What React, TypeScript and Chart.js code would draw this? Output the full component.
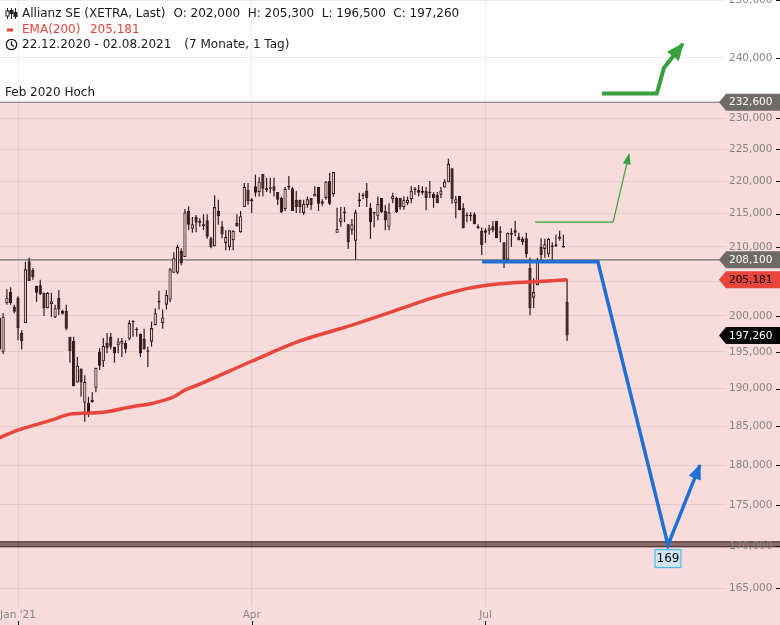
import React, { useEffect, useRef } from "react";
import { Chart, registerables } from "chart.js";

Chart.register(...registerables);

// ---- candle data (trading-day index 0 = 22.12.2020, 153 = 02.08.2021) ----
const opens = [
  195.3, 195.0, 201.8, 203.4, 201.3, 202.6, 197.6, 199.0, 207.9, 206.6,
  204.3, 204.4, 203.3, 201.1, 201.7, 199.8, 202.6, 200.7, 200.7, 197.1,
  196.5, 190.8, 192.7, 188.1, 188.1, 188.5, 190.1, 195.0, 193.7, 196.2,
  197.1, 195.7, 195.9, 196.1, 196.2, 196.8, 199.1, 198.0, 197.5, 196.8,
  195.1, 196.4, 198.7, 201.9, 199.0, 201.6, 202.3, 206.2, 206.2, 209.4,
  208.5, 215.4, 212.7, 214.5, 213.6, 213.4, 214.0, 211.3, 210.1, 215.4,
  213.1, 210.6, 210.0, 211.0, 213.6, 212.2, 216.0, 218.6, 217.2, 219.2,
  218.3, 221.1, 218.9, 218.8, 219.2, 218.3, 217.4, 215.7, 219.0, 218.9,
  217.1, 217.1, 215.1, 216.3, 217.4, 217.6, 219.1, 216.9, 217.4, 220.0,
  218.0, 212.1, 213.7, 215.1, 213.4, 212.5, 210.9, 216.9, 217.8, 218.5,
  215.9, 215.1, 214.6, 217.4, 215.4, 213.0, 217.2, 217.4, 217.4, 216.0,
  216.6, 217.2, 218.6, 218.6, 218.2, 218.5, 218.2, 218.0, 217.9, 217.9,
  219.0, 219.8, 222.0, 216.6, 217.7, 215.9, 214.6, 214.7, 214.9, 213.1,
  212.4, 212.5, 212.4, 213.1, 213.9, 212.2, 210.7, 208.1, 211.8, 212.5,
  211.5, 211.2, 211.3, 206.9, 202.6, 204.4, 210.0, 209.7, 208.9, 210.1,
  210.1, 211.5, 210.0, 202.0,
];
const highs = [
  200.1, 200.4, 203.8, 204.1, 201.6, 202.8, 198.0, 207.8, 208.4, 206.9,
  204.3, 205.2, 203.3, 203.4, 203.3, 201.6, 203.7, 200.9, 201.6, 197.1,
  197.1, 194.3, 192.7, 191.8, 188.9, 189.5, 192.8, 195.5, 196.9, 197.6,
  197.6, 195.7, 196.9, 196.9, 196.6, 199.4, 199.4, 198.4, 197.5, 198.2,
  195.7, 199.2, 201.1, 203.6, 200.9, 203.7, 206.9, 209.2, 210.3, 209.8,
  215.7, 216.1, 214.5, 214.8, 214.3, 214.9, 214.9, 211.5, 217.8, 217.1,
  213.9, 212.5, 212.5, 212.5, 214.9, 215.4, 219.7, 219.7, 217.4, 221.0,
  220.6, 221.1, 220.5, 220.5, 220.5, 218.3, 217.6, 219.1, 220.8, 219.1,
  218.5, 217.1, 217.1, 217.6, 217.4, 219.2, 219.1, 217.2, 220.0, 221.3,
  221.4, 215.9, 216.0, 216.0, 213.4, 214.2, 215.6, 218.2, 218.2, 219.7,
  216.6, 215.2, 217.6, 217.4, 216.3, 216.6, 218.2, 217.6, 217.4, 217.6,
  217.6, 219.2, 219.1, 219.4, 219.2, 219.1, 220.0, 218.3, 218.3, 219.1,
  220.3, 223.5, 222.0, 217.7, 217.7, 216.6, 215.2, 215.2, 215.2, 213.4,
  212.9, 212.8, 213.3, 213.9, 213.9, 213.1, 210.7, 212.1, 212.8, 213.9,
  212.1, 211.5, 212.1, 208.4, 205.4, 208.4, 211.3, 211.2, 211.3, 210.7,
  211.8, 212.4, 211.8, 205.3,
];
const lows = [
  194.8, 194.7, 201.6, 201.6, 200.4, 196.6, 195.3, 199.0, 205.0, 205.2,
  202.0, 203.0, 200.0, 201.1, 199.9, 199.7, 200.1, 200.2, 198.0, 193.5,
  190.3, 190.8, 188.9, 185.6, 186.2, 188.1, 189.5, 192.5, 192.9, 194.8,
  195.3, 193.5, 194.8, 194.3, 194.8, 196.6, 197.1, 197.1, 194.3, 195.3,
  192.9, 195.7, 198.7, 200.9, 198.2, 200.9, 202.0, 206.2, 206.0, 207.3,
  208.5, 212.5, 212.1, 212.2, 213.0, 212.5, 211.2, 209.8, 210.1, 213.3,
  211.3, 209.5, 209.5, 209.5, 213.0, 212.1, 216.0, 216.3, 215.1, 217.6,
  217.6, 217.6, 218.3, 218.1, 217.6, 216.3, 215.1, 215.4, 218.6, 215.4,
  215.1, 215.1, 214.8, 215.9, 215.6, 217.6, 215.4, 216.2, 217.1, 216.3,
  217.6, 212.1, 213.0, 213.7, 209.7, 211.8, 208.1, 216.0, 217.2, 216.0,
  211.2, 212.9, 214.0, 215.1, 212.5, 212.5, 216.6, 215.1, 215.6, 215.6,
  216.3, 216.6, 217.9, 217.6, 217.9, 215.5, 217.4, 215.9, 216.6, 217.4,
  219.0, 219.8, 216.5, 214.3, 215.5, 212.8, 213.7, 213.9, 213.4, 212.7,
  208.8, 210.6, 211.8, 212.2, 211.3, 210.7, 206.9, 208.1, 210.0, 211.6,
  211.0, 210.3, 208.4, 200.1, 201.1, 204.4, 208.1, 208.4, 208.5, 208.1,
  210.0, 210.9, 209.9, 196.5,
];
const closes = [
  199.7, 199.9, 202.6, 201.8, 200.6, 198.3, 196.5, 206.7, 205.0, 205.6,
  203.3, 203.1, 201.1, 203.3, 202.1, 201.1, 200.9, 200.3, 198.2, 195.1,
  190.3, 193.1, 190.8, 190.9, 186.8, 188.2, 192.8, 193.1, 195.8, 195.5,
  195.7, 194.8, 196.4, 196.5, 195.4, 199.0, 199.2, 198.1, 194.8, 195.3,
  195.0, 198.3, 200.4, 202.0, 199.8, 203.0, 206.7, 208.4, 210.0, 207.6,
  215.2, 213.3, 213.4, 213.6, 213.9, 213.1, 211.5, 210.0, 216.0, 214.6,
  211.9, 211.5, 212.5, 212.4, 213.1, 214.6, 219.1, 216.9, 216.9, 218.2,
  219.9, 218.8, 218.6, 218.9, 218.5, 217.1, 215.2, 218.8, 219.1, 215.4,
  216.0, 216.0, 216.5, 217.2, 216.3, 218.0, 216.5, 216.5, 219.9, 216.5,
  221.4, 212.7, 214.3, 215.3, 210.7, 213.4, 215.2, 217.2, 217.7, 217.4,
  213.7, 215.0, 216.5, 215.2, 214.0, 215.2, 217.7, 215.2, 216.0, 217.1,
  217.1, 218.5, 218.7, 218.2, 218.5, 217.4, 218.1, 217.4, 216.6, 218.5,
  219.9, 222.7, 217.2, 217.2, 215.5, 212.8, 214.7, 214.6, 213.4, 212.8,
  210.3, 212.1, 212.8, 212.5, 211.3, 212.1, 208.1, 212.1, 212.1, 212.1,
  211.0, 210.7, 208.9, 201.1, 203.4, 208.1, 208.8, 210.4, 211.2, 210.0,
  210.4, 211.2, 209.9, 197.26,
];

// EMA(200) read at selected trading-day indices
const emaIndex = [0, 5, 14, 19, 27, 36, 41, 47, 50, 54, 68, 81, 95, 108, 117, 126, 135, 144, 153];
const emaValues = [183.5, 184.5, 185.8, 186.6, 186.8, 187.6, 188.0, 188.9, 189.8, 190.6, 193.7, 196.5, 198.7, 201.0, 202.6, 203.9, 204.6, 204.9, 205.18];
const emaLast = 205.181;

// drawn annotations (trading-day index / price)
const bluePathX = [130.1, 161.3, 180.2, 188.8];
const bluePathY = [207.8, 207.8, 170.1, 180.0];
const greenThinX = [144.4, 165.4, 169.7];
const greenThinY = [213.7, 213.7, 224.2];
const greenThickX = [162.4, 177.2, 179.1, 184.2];
const greenThickY = [234.05, 234.05, 238.3, 242.4];
const targetLabel = "169";

const febHigh = 232.6;
const supportLine = 208.1;
const bandTop = 170.5;
const bandBottom = 169.9;

// axes
const monthTickIndex = [5, 68, 131];
const monthTickLabels = ["Jan '21", "Apr", "Jul"];
const yTickValues = [165, 170, 175, 180, 185, 190, 195, 200, 205, 210, 215, 220, 225, 230, 240, 250];

// legend texts
const titleName = "Allianz SE (XETRA, Last)";
const emaName = "EMA(200)";
const rangeText = "22.12.2020 - 02.08.2021";
const rangeLen = "(7 Monate, 1 Tag)";
const febHighText = "Feb 2020 Hoch";

const DARK = "#34171a";
const PINK = "#f8dcdc";
const RED = "#e8453c";
const BLUE = "#1f6fd6";
const GREEN = "#37a13d";
const TAG_GRAY = "#6f6a68";
const FONT = "'DejaVu Sans', sans-serif";

const fmt = (v: number) => v.toFixed(3).replace(".", ",");

function drawTag(ctx: CanvasRenderingContext2D, W: number, y: number, text: string, bg: string, fg: string) {
  ctx.beginPath();
  ctx.moveTo(719, y);
  ctx.lineTo(726, y - 8.5);
  ctx.lineTo(W, y - 8.5);
  ctx.lineTo(W, y + 8.5);
  ctx.lineTo(726, y + 8.5);
  ctx.closePath();
  ctx.fillStyle = bg;
  ctx.fill();
  ctx.fillStyle = fg;
  ctx.font = `10.5px ${FONT}`;
  ctx.textAlign = "left";
  ctx.textBaseline = "middle";
  ctx.fillText(text, 729, y + 0.5);
}

function drawArrowHead(ctx: CanvasRenderingContext2D, from: any, to: any, len: number, width: number, color: string) {
  const a = Math.atan2(to.y - from.y, to.x - from.x);
  const bx = to.x - len * Math.cos(a);
  const by = to.y - len * Math.sin(a);
  const nx = -Math.sin(a) * width / 2;
  const ny = Math.cos(a) * width / 2;
  ctx.beginPath();
  ctx.moveTo(to.x + Math.cos(a) * 1.5, to.y + Math.sin(a) * 1.5);
  ctx.lineTo(bx + nx, by + ny);
  ctx.lineTo(bx - nx, by - ny);
  ctx.closePath();
  ctx.fillStyle = color;
  ctx.fill();
}

const overlayPlugin = {
  id: "overlay",
  beforeDraw(chart: any) {
    const ctx = chart.ctx;
    const ys = chart.scales.y;
    const W = chart.width;
    const H = chart.height;
    ctx.save();
    ctx.fillStyle = "#ffffff";
    ctx.fillRect(0, 0, W, H);
    const yTop = ys.getPixelForValue(febHigh);
    ctx.fillStyle = PINK;
    ctx.fillRect(0, yTop, W, H - yTop);
    const b1 = ys.getPixelForValue(bandTop);
    const b2 = ys.getPixelForValue(bandBottom);
    ctx.fillStyle = "#8c6c6c";
    ctx.fillRect(0, b1, W, b2 - b1);
    ctx.strokeStyle = "#3b1f20";
    ctx.lineWidth = 1;
    ctx.strokeRect(-2, b1, W + 4, b2 - b1);
    ctx.restore();
  },
  beforeDatasetsDraw(chart: any) {
    const ctx = chart.ctx;
    const ys = chart.scales.y;
    ctx.save();
    ctx.strokeStyle = "#707070";
    ctx.lineWidth = 1.2;
    [febHigh, supportLine].forEach((v) => {
      const y = ys.getPixelForValue(v);
      ctx.beginPath();
      ctx.moveTo(0, y);
      ctx.lineTo(720, y);
      ctx.stroke();
    });
    ctx.restore();
  },
  afterDatasetsDraw(chart: any) {
    const ctx = chart.ctx;
    ctx.save();
    chart.data.datasets.forEach((ds: any, i: number) => {
      if (!ds.arrowLen) return;
      const pts = chart.getDatasetMeta(i).data;
      const n = pts.length;
      drawArrowHead(ctx, pts[n - 2], pts[n - 1], ds.arrowLen, ds.arrowWidth, ds.borderColor);
    });
    // target label under V bottom
    const blueIdx = chart.data.datasets.findIndex((d: any) => d.label === "Szenario");
    const p = chart.getDatasetMeta(blueIdx).data[2];
    ctx.font = `12px ${FONT}`;
    const tw = ctx.measureText(targetLabel).width;
    const bw = tw + 4;
    const bx = p.x - bw / 2;
    const by = p.y + 4;
    ctx.fillStyle = "#cfe5f3";
    ctx.fillRect(bx, by, bw, 19);
    ctx.strokeStyle = "#46acee";
    ctx.lineWidth = 1;
    ctx.strokeRect(bx + 0.5, by + 0.5, bw - 1, 18);
    ctx.fillStyle = "#111";
    ctx.textAlign = "center";
    ctx.textBaseline = "middle";
    ctx.fillText(targetLabel, p.x, by + 10);
    ctx.restore();
  },
  afterDraw(chart: any) {
    const ctx = chart.ctx;
    const ys = chart.scales.y;
    const xs = chart.scales.x;
    const W = chart.width;
    const H = chart.height;
    ctx.save();

    // tick marks
    ctx.strokeStyle = "#111";
    ctx.lineWidth = 1;
    ys.ticks.forEach((t: any) => {
      const y = Math.round(ys.getPixelForValue(t.value)) + 0.5;
      ctx.beginPath();
      ctx.moveTo(W - 4, y);
      ctx.lineTo(W, y);
      ctx.stroke();
    });
    xs.ticks.forEach((t: any) => {
      const x = Math.round(xs.getPixelForValue(t.value)) + 0.5;
      ctx.beginPath();
      ctx.moveTo(x, H - 4);
      ctx.lineTo(x, H);
      ctx.stroke();
    });

    // price tags
    drawTag(ctx, W, ys.getPixelForValue(febHigh), fmt(febHigh), TAG_GRAY, "#ffffff");
    drawTag(ctx, W, ys.getPixelForValue(supportLine), fmt(supportLine), TAG_GRAY, "#ffffff");
    drawTag(ctx, W, ys.getPixelForValue(emaLast), fmt(emaLast), RED, "#000000");
    drawTag(ctx, W, ys.getPixelForValue(closes[closes.length - 1]), fmt(closes[closes.length - 1]), "#050505", "#ffffff");

    // Feb 2020 label
    ctx.font = `12px ${FONT}`;
    ctx.textAlign = "left";
    ctx.textBaseline = "middle";
    ctx.fillStyle = "#1a1a1a";
    ctx.fillText(febHighText, 5, 93);

    // legend line 1
    const last = closes.length - 1;
    ctx.strokeStyle = "#222";
    ctx.fillStyle = "#222";
    ctx.lineWidth = 1;
    [[7.5, 11, 16], [11.5, 10, 14], [15.5, 12, 17]].forEach(([cx, t, b], k) => {
      ctx.beginPath();
      ctx.moveTo(cx, 8);
      ctx.lineTo(cx, 19);
      ctx.stroke();
      if (k === 0) {
        ctx.fillStyle = "#fff";
        ctx.fillRect(cx - 1.5, t, 3, b - t);
        ctx.strokeRect(cx - 1.5, t, 3, b - t);
      } else {
        ctx.fillStyle = "#222";
        ctx.fillRect(cx - 2, t, 4, b - t);
      }
    });
    ctx.fillStyle = "#1a1a1a";
    let x = 22;
    const y1 = 13.5;
    ctx.fillText(titleName, x, y1);
    x += ctx.measureText(titleName).width + 8;
    const parts = [
      "O: " + fmt(opens[last]),
      "H: " + fmt(highs[last]),
      "L: " + fmt(lows[last]),
      "C: " + fmt(closes[last]),
    ];
    parts.forEach((s) => {
      ctx.fillText(s, x, y1);
      x += ctx.measureText(s).width + 7.5;
    });

    // legend line 2
    ctx.fillStyle = RED;
    ctx.fillRect(7, 28.5, 6, 3);
    ctx.fillText(emaName, 22, 30);
    ctx.fillText(fmt(emaLast), 22 + ctx.measureText(emaName).width + 9.5, 30);

    // legend line 3
    ctx.strokeStyle = "#1a1a1a";
    ctx.lineWidth = 1.3;
    ctx.beginPath();
    ctx.arc(11.5, 44.5, 5.2, 0, Math.PI * 2);
    ctx.stroke();
    ctx.beginPath();
    ctx.moveTo(11.5, 41.3);
    ctx.lineTo(11.5, 44.8);
    ctx.lineTo(14.2, 46.5);
    ctx.stroke();
    ctx.fillStyle = "#1a1a1a";
    ctx.fillText(rangeText, 22, 45);
    ctx.fillText(rangeLen, 22 + ctx.measureText(rangeText).width + 13, 45);

    ctx.restore();
  },
};

export default function App() {
  const canvasRef = useRef<HTMLCanvasElement | null>(null);

  useEffect(() => {
    document.body.style.margin = "0";
    const canvas = canvasRef.current;
    if (!canvas) return;
    Chart.defaults.font.family = FONT;

    const idx = opens.map((_, i) => i);
    const wickData = idx.map((i) => ({ x: i, y: [lows[i], highs[i]] }));
    const bodyData = idx.map((i) => ({ x: i, y: [opens[i], closes[i]] }));
    const bodyFill = idx.map((i) => (closes[i] >= opens[i] ? PINK : DARK));

    const pxPerIndex = 3.71;
    const xMin = 0.55 / pxPerIndex;
    const plotWidth = 726;
    const xMax = xMin + plotWidth / pxPerIndex;

    const chart = new Chart(canvas, {
      type: "bar",
      data: {
        datasets: [
          {
            type: "line",
            label: "Szenario",
            data: bluePathX.map((x, i) => ({ x, y: bluePathY[i] })),
            borderColor: BLUE,
            borderWidth: 3.5,
            pointRadius: 0,
            tension: 0,
            borderJoinStyle: "miter",
            order: -2,
            arrowLen: 14,
            arrowWidth: 13,
          } as any,
          {
            type: "line",
            label: "Ziel klein",
            data: greenThinX.map((x, i) => ({ x, y: greenThinY[i] })),
            borderColor: GREEN,
            borderWidth: 1.2,
            pointRadius: 0,
            tension: 0,
            order: -2,
            arrowLen: 10,
            arrowWidth: 8,
          } as any,
          {
            type: "line",
            label: "Ziel gross",
            data: greenThickX.map((x, i) => ({ x, y: greenThickY[i] })),
            borderColor: GREEN,
            borderWidth: 4,
            pointRadius: 0,
            tension: 0,
            borderJoinStyle: "miter",
            order: -2,
            arrowLen: 16,
            arrowWidth: 15,
          } as any,
          {
            type: "line",
            label: "EMA(200)",
            data: emaIndex.map((x, i) => ({ x, y: emaValues[i] })),
            borderColor: RED,
            borderWidth: 3.5,
            pointRadius: 0,
            cubicInterpolationMode: "monotone",
            order: -1,
          } as any,
          {
            type: "bar",
            label: "Körper",
            data: bodyData as any,
            backgroundColor: bodyFill,
            borderColor: DARK,
            borderWidth: 1.1,
            borderSkipped: false,
            grouped: false,
            categoryPercentage: 1,
            barPercentage: 0.88,
            minBarLength: 1.5,
            inflateAmount: 0,
            order: 1,
          } as any,
          {
            type: "bar",
            label: "Docht",
            data: wickData as any,
            backgroundColor: DARK,
            borderWidth: 0,
            grouped: false,
            maxBarThickness: 1.2,
            inflateAmount: 0,
            order: 2,
          } as any,
        ],
      },
      options: {
        animation: false,
        responsive: true,
        maintainAspectRatio: false,
        events: [],
        layout: { padding: 0 },
        plugins: {
          legend: { display: false },
          tooltip: { enabled: false },
        },
        scales: {
          x: {
            type: "linear",
            position: "bottom",
            min: xMin,
            max: xMax,
            bounds: "data",
            offset: false,
            grid: { color: "rgba(0,0,0,0.07)", drawTicks: false, offset: false },
            border: { display: false },
            ticks: {
              color: "#858585",
              font: { size: 10.5, family: FONT },
              padding: 3,
              autoSkip: false,
              maxRotation: 0,
              callback: (value: any) => {
                const k = monthTickIndex.indexOf(Number(value));
                return k >= 0 ? monthTickLabels[k] : "";
              },
            },
            afterBuildTicks: (scale: any) => {
              scale.ticks = monthTickIndex.map((v) => ({ value: v }));
            },
            afterFit: (scale: any) => {
              scale.height = 19;
              scale.paddingLeft = 0;
              scale.paddingRight = 0;
            },
          },
          y: {
            type: "logarithmic",
            position: "right",
            min: 162.94,
            max: 250.03,
            bounds: "data",
            grid: { color: "rgba(0,0,0,0.07)", drawTicks: false },
            border: { display: false },
            ticks: {
              color: "#858585",
              font: { size: 10.5, family: FONT },
              padding: 3,
              crossAlign: "near",
              autoSkip: false,
              callback: (value: any) => fmt(Number(value)),
            },
            afterBuildTicks: (scale: any) => {
              scale.ticks = yTickValues.map((v) => ({ value: v }));
            },
            afterFit: (scale: any) => {
              scale.width = 54;
              scale.paddingTop = 0;
              scale.paddingBottom = 0;
            },
          },
        },
      } as any,
      plugins: [overlayPlugin as any],
    });

    return () => {
      chart.destroy();
    };
  }, []);

  return (
    <div style={{ position: "fixed", left: 0, top: 0, width: 780, height: 625 }}>
      <canvas ref={canvasRef} style={{ display: "block" }} />
    </div>
  );
}
